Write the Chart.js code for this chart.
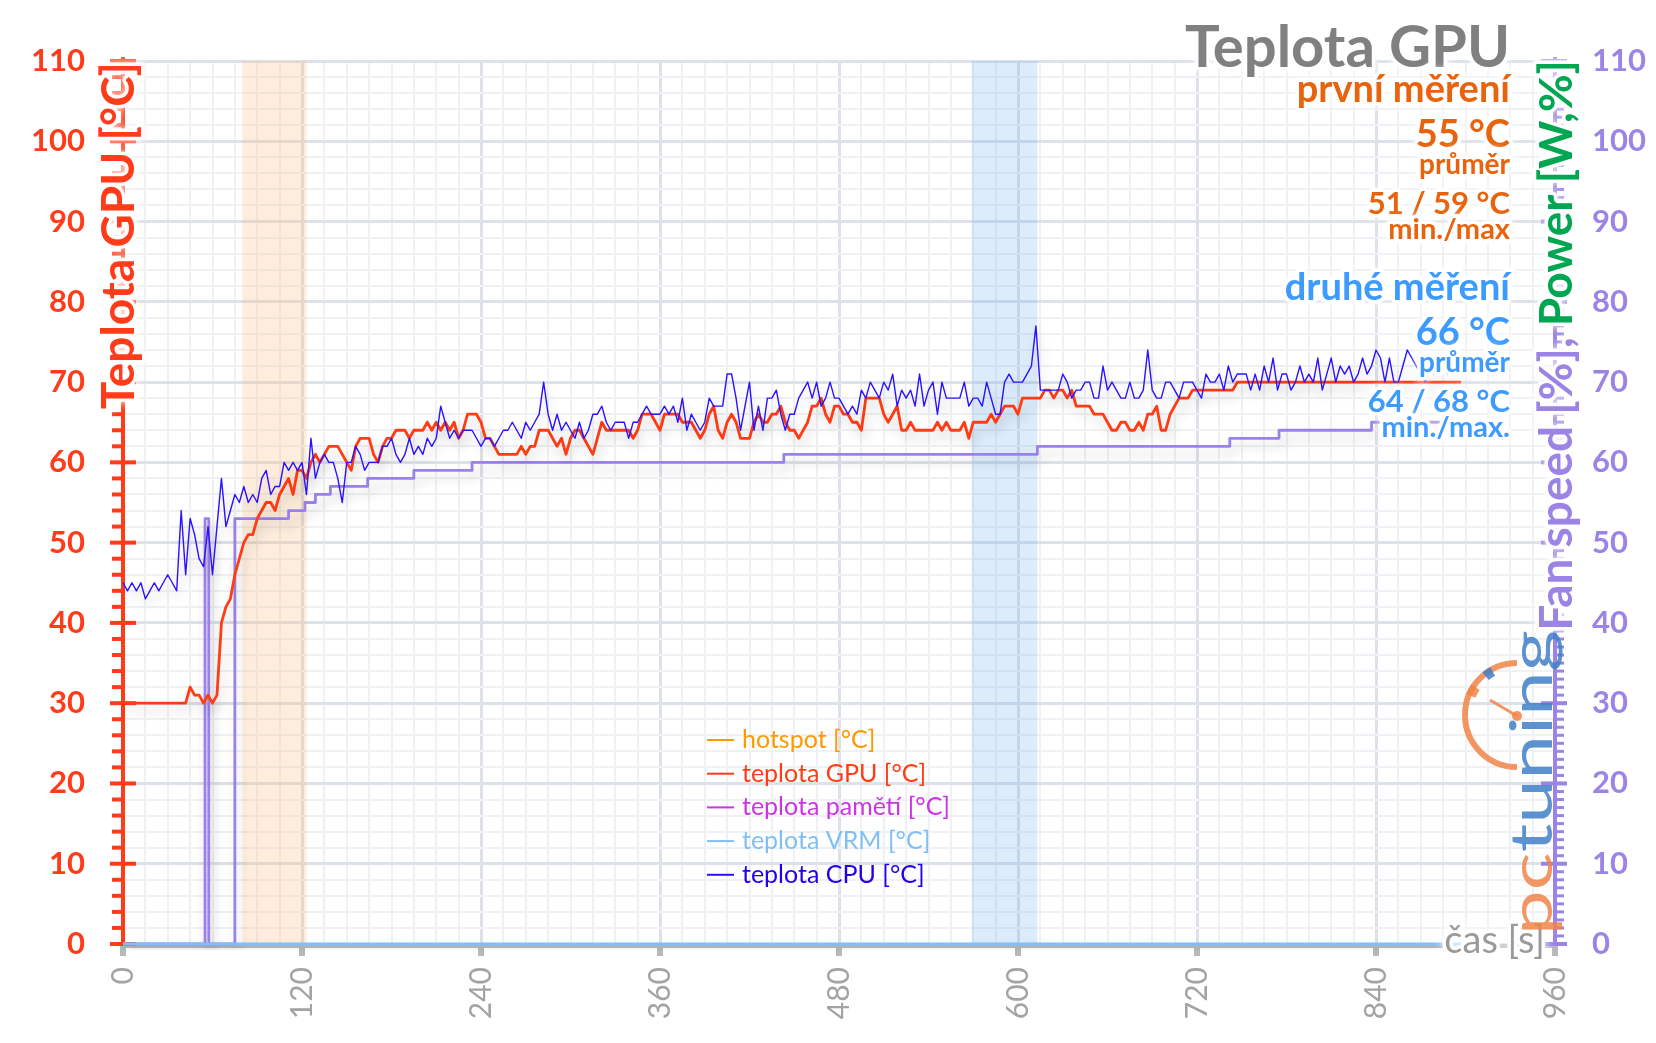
<!DOCTYPE html>
<html lang="cs">
<head>
<meta charset="utf-8">
<title>Teplota GPU</title>
<script src="https://cdn.jsdelivr.net/npm/chart.js"></script>
<style>
  html, body { margin: 0; padding: 0; background: #fff; }
  #graf { display: block; }
</style>
</head>
<body>
<canvas id="graf" width="1656" height="1043"></canvas>
<script>
// vzorky po 3 s
const krok = 3;

const gpu = [
  30, 30, 30, 30, 30, 30, 30, 30, 30, 30, 30, 30, 30, 30, 30,
  32, 31, 31, 30, 31, 30, 31, 40, 42, 43,
  46, 48, 50, 51, 51, 53, 54, 55, 55, 54,
  56, 57, 58, 56, 59, 59, 58, 60, 61, 60,
  61, 62, 62, 62, 61, 60, 59, 62, 63, 63,
  63, 61, 60, 62, 63, 63, 64, 64, 64, 63,
  64, 64, 64, 65, 64, 65, 64, 65,
  64, 65, 63, 64, 66, 66, 66, 65, 63, 63,
  62, 61, 61, 61, 61, 61, 62, 61, 62, 62,
  64, 64, 64, 63, 62, 63, 61, 63, 64, 64,
  63, 62, 61, 63, 65, 64, 64, 64, 64, 64,
  64, 63, 64, 66, 66, 66, 65, 64, 66, 66,
  66, 66, 65, 65, 65, 64, 63, 64, 66, 67,
  64, 63, 65, 66, 65, 63, 63, 63, 65, 66,
  65, 65, 66,
  66, 67, 65, 64, 64, 63, 64, 65, 67, 67,
  68, 66, 65, 67, 67, 66, 66, 65, 65, 64,
  68, 68, 68, 68, 66, 65, 66, 67, 64, 64,
  65, 64, 64, 64, 64, 64, 65, 64, 65, 64,
  64, 64, 65, 63, 65, 65, 65, 65, 66, 65,
  66, 67, 67, 67, 66, 68, 68, 68, 68, 68,
  69, 69, 68, 69, 69, 68, 69, 67, 67, 67,
  67, 66, 66,
  66, 65, 64, 64, 65, 65, 64, 64, 65, 64,
  66, 66, 67, 64, 64, 66, 67, 68, 68, 68,
  69, 69, 69, 69, 69, 69, 69, 69, 69, 69,
  70, 70, 70, 70, 70, 70, 70, 70, 70, 70,
  70, 70, 70, 70, 70, 70, 70, 70, 70, 70,
  70, 70, 70, 70, 70, 70, 70, 70, 70, 70,
  70, 70, 70, 70, 70, 70, 70, 70, 70, 70,
  70, 70, 70, 70, 70, 70, 70, 70, 70, 70,
  70
];

const cpu = [
  45, 44, 45, 44, 45, 43, 44, 45, 44, 45, 46, 45, 44,
  54, 46, 53, 51, 48, 47, 52, 46, 52, 58,
  52, 54, 56, 55, 57, 55, 56, 55, 58, 59,
  56, 57, 57, 60, 59, 60, 59, 60, 56, 63,
  58, 60, 61, 60, 60, 58, 55, 60, 60, 62,
  61, 59, 60, 60, 60, 62, 62, 63, 61, 60,
  61, 63, 61, 62, 61, 63, 62, 63, 67, 65,
  63, 64, 63, 64, 64, 64, 63, 62, 63, 63,
  62, 63, 64, 64, 65, 64, 63, 65, 64, 65,
  66, 70, 66, 64, 66, 64, 65, 64, 63, 65,
  63, 64, 66, 66, 67, 65, 64, 65, 65, 65,
  63, 65, 65, 66, 67, 66, 66, 66, 67, 66,
  67, 65, 68, 64, 66, 65, 64, 65, 68, 67,
  67, 67, 71, 71, 68, 64, 67, 70, 64, 67,
  64, 68, 68,
  69, 66, 64, 66, 66, 68, 69, 70, 68, 70,
  67, 68, 70, 68, 68, 67, 66, 67, 66, 69,
  68, 70, 69, 68, 70, 69, 71, 67, 69, 68,
  69, 67, 71, 67, 69, 70, 66, 70, 68, 68,
  68, 68, 70, 67, 68, 68, 67, 70, 68, 66,
  66, 70, 71, 70, 70, 70, 71, 72, 77, 69,
  69, 69, 69, 69, 71, 70, 68, 69, 69, 70,
  70, 68, 68,
  72, 69, 70, 69, 68, 68, 70, 68, 68, 69,
  74, 69, 68, 68, 70, 70, 69, 68, 70, 70,
  70, 69, 68, 71, 70, 70, 71, 69, 72, 70,
  71, 71, 71, 69, 71, 69, 72, 70, 73, 69,
  71, 71, 69, 70, 72, 70, 71, 70, 73, 69,
  71, 73, 70, 72, 71, 72, 70, 71, 73, 71,
  72, 74, 73, 70, 73, 70, 70, 72, 74, 73,
  72, 71, 70, 72, 71, 71, 72, 71, 72, 71,
  72
];

const cas = gpu.map((_, i) => i * krok);

// otáčky ventilátoru: časy změn a hodnoty (schodovitě)
const fanCas = [0, 55, 57.5, 75, 111, 122, 129, 139, 164, 195, 234, 443, 613, 742, 775, 837, 898];
const fanVal = [0, 53, 0, 53, 54, 55, 56, 57, 58, 59, 60, 61, 62, 63, 64, 65, 65];

// VRM leží celou dobu na nule
const vrmCas = [0, 897];
const vrmVal = [0, 0];

const hotspot = [];
const pameti = [];

// zvýrazněné úseky měření [od, do] v sekundách
const pasma = [[80, 123], [569, 613]];
const barvyPasem = ['rgba(250, 190, 130, 0.28)', 'rgba(120, 180, 240, 0.26)'];

const xTicky = [0, 120, 240, 360, 480, 600, 720, 840, 960];

const prvni = { nadpis: 'první měření', prumer: '55 °C', minmax: '51 / 59 °C', popisMinMax: 'min./max', barva: '#e8630c' };
const druhe = { nadpis: 'druhé měření', prumer: '66 °C', minmax: '64 / 68 °C', popisMinMax: 'min./max.', barva: '#3d9bff' };

const FONT = 'Lato, "Open Sans", sans-serif';
const CERVENA = '#ff3b1a';
const FIALOVA = '#9c84e6';

const body = (xs, ys) => xs.map((t, i) => ({ x: t, y: ys[i] }));

function zareText(ctx, text, x, y, barva, font, align) {
  ctx.save();
  ctx.font = font;
  ctx.textAlign = align || 'right';
  ctx.textBaseline = 'alphabetic';
  ctx.lineJoin = 'round';
  ctx.shadowColor = '#fff';
  ctx.shadowBlur = 10;
  ctx.strokeStyle = 'rgba(255,255,255,0.95)';
  ctx.lineWidth = 7;
  ctx.strokeText(text, x, y);
  ctx.shadowBlur = 0;
  ctx.fillStyle = barva;
  ctx.fillText(text, x, y);
  ctx.restore();
}

// svisle otočený text (čte se zdola nahoru), konec textu je v bodě (x, yKonec)
function svislyText(ctx, casti, x, yKonec, font) {
  ctx.save();
  ctx.translate(x, yKonec);
  ctx.rotate(-Math.PI / 2);
  ctx.font = font;
  let konec = 0;
  for (let i = casti.length - 1; i >= 0; i--) {
    const [text, barva] = casti[i];
    zareText(ctx, text, konec, 0, barva, font, 'right');
    konec -= ctx.measureText(text).width;
  }
  ctx.restore();
}

function kresliLogo(ctx) {
  ctx.save();
  ctx.globalAlpha = 0.85;
  const cx = 1517, cy = 715, r = 52;
  ctx.strokeStyle = '#f08448';
  ctx.lineWidth = 6;
  ctx.beginPath();
  ctx.arc(cx, cy, r, -Math.PI / 2, Math.PI / 2, true);
  ctx.stroke();
  ctx.lineWidth = 10;
  ctx.beginPath();
  ctx.arc(cx, cy, r - 2, -2.75, -2.55);
  ctx.stroke();
  ctx.strokeStyle = '#3f7fc8';
  ctx.beginPath();
  ctx.arc(cx, cy, r - 2, -2.25, -2.08);
  ctx.stroke();
  ctx.strokeStyle = '#f08448';
  ctx.lineWidth = 3;
  ctx.beginPath();
  ctx.moveTo(cx, cy + 1);
  ctx.lineTo(cx - 27, cy - 15);
  ctx.stroke();
  ctx.fillStyle = '#f08448';
  ctx.beginPath();
  ctx.arc(cx, cy + 1, 5, 0, Math.PI * 2);
  ctx.fill();

  ctx.translate(1552, 935);
  ctx.rotate(-Math.PI / 2);
  ctx.font = '58px ' + FONT;
  const wPc = ctx.measureText('pc').width;
  const wVse = ctx.measureText('pctuning').width;
  ctx.scale(305 / wVse, 1);
  ctx.textAlign = 'left';
  ctx.textBaseline = 'alphabetic';
  ctx.fillStyle = '#f08448';
  ctx.fillText('pc', 0, 0);
  ctx.fillStyle = '#3f7fc8';
  ctx.fillText('tuning', wPc, 0);
  ctx.restore();
}

const osyPlugin = {
  id: 'osy',
  beforeDatasetsDraw(chart) {
    const { ctx, chartArea: a, scales } = chart;
    const x = scales.x, y = scales.y, y1 = scales.y1;
    ctx.save();
    pasma.forEach(([od, po], i) => {
      const x0 = x.getPixelForValue(od), x1 = x.getPixelForValue(po);
      ctx.fillStyle = barvyPasem[i];
      ctx.fillRect(x0, a.top, x1 - x0, a.bottom - a.top);
    });

    // spodní osa
    ctx.fillStyle = '#b8b8b8';
    ctx.fillRect(a.left, a.bottom, a.right - a.left, 4);
    xTicky.forEach((t) => {
      const px = x.getPixelForValue(t);
      ctx.fillRect(px - 3, a.bottom, 6, 12);
    });

    // levá osa
    ctx.fillStyle = CERVENA;
    ctx.fillRect(a.left - 2, a.top - 4, 4, a.bottom - a.top + 6);
    for (let v = 0; v <= 110; v += 2) {
      const py = y.getPixelForValue(v);
      if (v % 10 === 0) ctx.fillRect(a.left - 13, py - 2, 26, 4);
      else ctx.fillRect(a.left - 11, py - 2, 11, 4);
    }

    // pravá osa
    ctx.fillStyle = FIALOVA;
    ctx.fillRect(a.right - 2, a.top - 4, 4, a.bottom - a.top + 6);
    for (let v = 0; v <= 110; v += 1) {
      const py = y1.getPixelForValue(v);
      if (v % 10 === 0) ctx.fillRect(a.right - 14, py - 2, 26, 4);
      else ctx.fillRect(a.right, py - 1.5, 9, 3);
    }
    ctx.restore();
  },
  beforeDatasetDraw(chart) {
    const ctx = chart.ctx;
    ctx.save();
    ctx.shadowColor = 'rgba(0, 0, 0, 0.18)';
    ctx.shadowBlur = 12;
    ctx.shadowOffsetX = 3;
    ctx.shadowOffsetY = 7;
  },
  afterDatasetDraw(chart) {
    chart.ctx.restore();
  },
  afterDraw(chart) {
    const ctx = chart.ctx;

    // popisky os
    svislyText(ctx, [['Teplota GPU [°C]', CERVENA]], 134, 62, 'bold 46px ' + FONT);
    svislyText(ctx, [['Fan speed [%], ', FIALOVA], ['Power [W,%]', '#00a651']], 1572, 60, 'bold 46px ' + FONT);
    zareText(ctx, 'čas [s]', 1545, 953, '#9a9a9a', '38px ' + FONT, 'right');

    // nadpis a souhrny
    const P = 1510;
    zareText(ctx, 'Teplota GPU', P, 67, '#808080', 'bold 58px ' + FONT);
    [[prvni, 0], [druhe, 198]].forEach(([m, dy]) => {
      zareText(ctx, m.nadpis, P, 102 + dy, m.barva, 'bold 38px ' + FONT);
      zareText(ctx, m.prumer, P, 147 + dy, m.barva, 'bold 38px ' + FONT);
      zareText(ctx, 'průměr', P, 174 + dy, m.barva, 'bold 28px ' + FONT);
      zareText(ctx, m.minmax, P, 214 + dy, m.barva, 'bold 31px ' + FONT);
      zareText(ctx, m.popisMinMax, P, 239 + dy, m.barva, 'bold 29px ' + FONT);
    });

    // legenda
    ctx.save();
    ctx.font = '25px ' + FONT;
    ctx.textBaseline = 'middle';
    ctx.textAlign = 'left';
    chart.data.datasets.filter((d) => d.vLegende).forEach((d, k) => {
      const yy = 740 + k * 33.7;
      ctx.strokeStyle = d.borderColor;
      ctx.lineWidth = 2;
      ctx.beginPath();
      ctx.moveTo(707, yy);
      ctx.lineTo(734, yy);
      ctx.stroke();
      ctx.fillStyle = d.barvaTextu || d.borderColor;
      ctx.fillText(d.label, 742, yy);
    });
    ctx.restore();

    kresliLogo(ctx);
  }
};

const mrizka = (hlavni) => ({
  drawTicks: false,
  color: (c) => (c.tick && hlavni(c.tick.value) ? '#dde1e9' : '#eff1f5'),
  lineWidth: (c) => (c.tick && hlavni(c.tick.value) ? 3 : 2)
});

function vytvorGraf() {
  new Chart(document.getElementById('graf'), {
    type: 'line',
    data: {
      datasets: [
        { label: 'hotspot [°C]', data: hotspot, borderColor: '#ff9900', vLegende: true, order: 5 },
        { label: 'teplota GPU [°C]', data: body(cas, gpu), borderColor: '#ff3c14', borderWidth: 2.8, vLegende: true, order: 2 },
        { label: 'teplota pamětí [°C]', data: pameti, borderColor: '#cc33e6', vLegende: true, order: 5 },
        { label: 'teplota VRM [°C]', data: body(vrmCas, vrmVal), borderColor: '#80bff5', borderWidth: 3, vLegende: true, order: 1 },
        { label: 'teplota CPU [°C]', data: body(cas, cpu), borderColor: '#2a12ff', barvaTextu: '#2200ee', borderWidth: 1.4, vLegende: true, order: 0 },
        { label: 'fan speed [%]', data: body(fanCas, fanVal), borderColor: '#9c82e8', borderWidth: 2.8, stepped: true, yAxisID: 'y1', order: 3 }
      ]
    },
    options: {
      responsive: false,
      animation: false,
      devicePixelRatio: 1,
      events: [],
      clip: 6,
      layout: { padding: { top: 61, left: 0, right: 0, bottom: 0 } },
      elements: { point: { radius: 0 }, line: { tension: 0, borderJoinStyle: 'round' } },
      plugins: { legend: { display: false }, tooltip: { enabled: false }, title: { display: false } },
      scales: {
        x: {
          type: 'linear',
          min: 0,
          max: 960,
          afterFit: (s) => { s.height = 99; },
          border: { display: false },
          grid: mrizka((v) => v % 120 === 0),
          ticks: {
            stepSize: 15,
            autoSkip: false,
            minRotation: 90,
            maxRotation: 90,
            padding: 23,
            color: '#a3a3a3',
            font: { family: FONT, size: 30 },
            callback: (v) => (xTicky.includes(v) ? String(v) : '')
          }
        },
        y: {
          position: 'left',
          min: 0,
          max: 110,
          afterFit: (s) => { s.width = 123; },
          border: { display: false },
          grid: mrizka((v) => v % 10 === 0),
          ticks: {
            stepSize: 2,
            autoSkip: false,
            padding: 38,
            color: CERVENA,
            font: { family: FONT, size: 31, weight: 'bold' },
            callback: (v) => (v % 10 === 0 ? String(v) : '')
          }
        },
        y1: {
          position: 'right',
          min: 0,
          max: 110,
          afterFit: (s) => { s.width = 101; },
          border: { display: false },
          grid: { display: false, drawTicks: false },
          ticks: {
            stepSize: 10,
            autoSkip: false,
            padding: 37,
            color: FIALOVA,
            font: { family: FONT, size: 31, weight: 'bold' }
          }
        }
      }
    },
    plugins: [osyPlugin]
  });
}

Promise.all([
  document.fonts.load('bold 30px Lato'),
  document.fonts.load('30px Lato')
]).catch(() => {}).then(vytvorGraf);
</script>
</body>
</html>
